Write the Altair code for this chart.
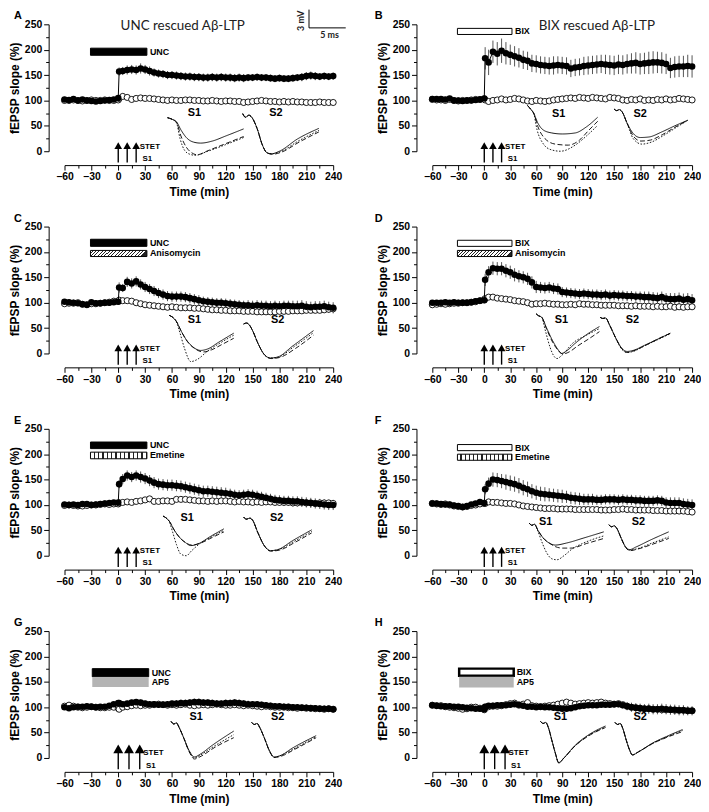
import altair as alt
import pandas as pd

# ---------------- time axis of the recordings (min) ----------------
TIMES = [-60, -55, -50, -45, -40, -35, -30, -25, -20, -15, -10, -5, 0, 1,
         5, 10, 15, 20, 25, 30, 35, 40, 45, 50, 55, 60,
         65, 70, 75, 80, 85, 90, 95, 100, 105, 110, 115, 120,
         125, 130, 135, 140, 145, 150, 155, 160, 165, 170, 175, 180,
         185, 190, 195, 200, 205, 210, 215, 220, 225, 230, 235, 240]

# ---------------- panel A ----------------
A_FILLED = [102, 101, 103, 100, 102, 100, 99, 98, 99, 100, 101, 102, 105, 157,
            158, 160, 161, 160, 163, 161, 158, 155, 153, 152, 150, 150,
            149, 148, 147, 147, 146, 146, 145, 145, 146, 145, 146, 145,
            145, 144, 145, 144, 145, 145, 146, 145, 145, 144, 143, 144,
            143, 143, 144, 145, 146, 148, 149, 148, 147, 148, 147, 148]
A_ERR = [3, 3, 3, 3, 3, 3, 3, 3, 3, 3, 3, 3, 3, 8,
         8, 9, 9, 9, 10, 9, 9, 8, 8, 8, 8, 8,
         8, 8, 8, 8, 8, 8, 8, 8, 8, 8, 8, 8,
         8, 8, 8, 8, 7, 7, 7, 7, 7, 7, 7, 7,
         7, 7, 7, 7, 8, 8, 8, 8, 7, 7, 7, 7]
A_OPEN = [100, 100, 101, 100, 99, 100, 101, 100, 100, 101, 100, 100, 101, 104,
          108, 106, 102, 104, 105, 104, 104, 103, 102, 101, 100, 101,
          100, 100, 101, 101, 100, 100, 99, 99, 100, 99, 98, 99,
          99, 98, 98, 96, 97, 98, 99, 100, 99, 98, 98, 97,
          98, 97, 98, 97, 97, 96, 96, 96, 97, 96, 96, 96]
A_S1 = {"solid": [(55, 66), (60, 63), (65, 58), (70, 42), (76, 27), (84, 18), (92, 16), (105, 20), (120, 30), (140, 44)],
        "dash": [(55, 66), (60, 63), (65, 57), (70, 30), (76, 8), (82, -3), (88, -7), (100, 1), (120, 15), (140, 29)],
        "dot": [(55, 66), (60, 63), (65, 56), (69, 25), (74, 2), (80, -6), (86, -8), (100, 0), (120, 13), (140, 27)]}
A_S2 = {"solid": [(139, 74), (142, 67), (146, 71), (149, 67), (155, 45), (161, 12), (166, -3), (171, -5), (180, 0), (200, 24), (224, 45)],
        "dash": [(139, 74), (142, 67), (146, 71), (149, 67), (155, 45), (161, 12), (166, -3), (172, -6), (182, -2), (202, 18), (224, 38)],
        "dot": [(139, 74), (142, 67), (146, 71), (149, 67), (155, 45), (161, 12), (166, -3), (172, -5), (181, -1), (201, 20), (224, 41)]}
A_LABELS = [("S1", 85, 76), ("S2", 176, 76)]
A_BARS = [("UNC", -31, 32, 189, 203, "black")]

# ---------------- panel B ----------------
B_FILLED = [103, 103, 103, 102, 104, 100, 100, 99, 100, 100, 101, 102, 104, 183,
            175, 196, 192, 198, 193, 190, 187, 184, 180, 178, 173, 172,
            170, 169, 168, 169, 170, 169, 168, 163, 165, 166, 168, 169,
            170, 171, 172, 171, 170, 169, 171, 170, 172, 173, 174, 172,
            173, 174, 175, 175, 174, 172, 164, 166, 167, 167, 168, 167]
B_ERR = [3, 3, 3, 3, 3, 3, 3, 3, 3, 3, 3, 3, 3, 22,
         25, 22, 23, 24, 22, 20, 20, 19, 18, 18, 17, 17,
         17, 17, 17, 18, 17, 17, 17, 17, 17, 17, 18, 18,
         18, 18, 18, 19, 19, 19, 19, 19, 19, 20, 21, 21,
         21, 22, 22, 21, 21, 20, 20, 21, 21, 21, 22, 22]
B_OPEN = [102, 101, 101, 100, 102, 100, 99, 100, 100, 101, 102, 102, 103, 101,
          98, 100, 101, 103, 101, 102, 104, 103, 101, 99, 98, 100,
          99, 98, 99, 101, 102, 103, 104, 105, 104, 106, 105, 104,
          106, 105, 104, 103, 106, 105, 104, 101, 100, 102, 101, 103,
          100, 101, 100, 102, 101, 103, 101, 102, 104, 103, 102, 101]
B_S1 = {"solid": [(50, 90), (54, 82), (57, 75), (62, 55), (68, 42), (78, 36), (90, 34), (105, 36), (118, 48), (131, 67)],
        "dash": [(50, 90), (54, 82), (57, 75), (62, 48), (70, 25), (82, 14), (97, 12), (110, 22), (120, 40), (131, 59)],
        "dot": [(50, 90), (54, 82), (57, 75), (61, 42), (68, 15), (77, 3), (88, 0), (105, 12), (118, 30), (131, 51)]}
B_S2 = {"solid": [(150, 83), (153, 80), (156, 82), (159, 78), (165, 55), (172, 35), (180, 27), (190, 28), (205, 38), (220, 50), (235, 61)],
        "dash": [(150, 83), (153, 80), (156, 82), (159, 78), (165, 55), (172, 30), (181, 20), (192, 22), (206, 33), (220, 47), (235, 61)],
        "dot": [(150, 83), (153, 80), (156, 82), (159, 78), (165, 55), (172, 25), (182, 14), (193, 18), (207, 31), (221, 46), (235, 61)]}
B_LABELS = [("S1", 86, 74), ("S2", 180, 74)]
B_BARS = [("BIX", -31, 32, 230, 242, "open")]

# ---------------- panel C ----------------
C_FILLED = [102, 101, 100, 99, 97, 96, 101, 99, 99, 100, 100, 101, 102, 130,
            129, 141, 138, 142, 136, 131, 127, 123, 119, 116, 113, 112,
            112, 112, 111, 109, 107, 105, 103, 102, 101, 100, 100, 99,
            98, 97, 96, 95, 95, 94, 95, 94, 94, 93, 94, 93,
            94, 94, 93, 93, 94, 92, 91, 92, 92, 93, 91, 90]
C_ERR = [4, 4, 4, 4, 4, 4, 4, 4, 4, 4, 4, 4, 4, 10,
         8, 10, 10, 10, 10, 10, 10, 10, 10, 10, 10, 10,
         10, 10, 10, 10, 10, 10, 9, 9, 9, 9, 9, 9,
         9, 9, 9, 9, 10, 10, 10, 10, 10, 10, 10, 10,
         10, 10, 11, 11, 11, 11, 11, 11, 11, 11, 11, 11]
C_OPEN = [98, 99, 99, 100, 97, 96, 98, 98, 99, 100, 101, 103, 103, 105,
          104, 104, 103, 100, 98, 96, 95, 94, 93, 92, 91, 92,
          91, 90, 90, 90, 89, 89, 88, 87, 86, 86, 85, 85,
          84, 84, 84, 83, 83, 83, 82, 82, 82, 82, 82, 83,
          83, 83, 84, 84, 84, 85, 85, 85, 85, 86, 87, 88]
C_S1 = {"solid": [(57, 75), (61, 71), (65, 63), (70, 45), (76, 27), (84, 12), (92, 6), (100, 9), (112, 22), (129, 40)],
        "dash": [(57, 75), (61, 71), (65, 63), (70, 45), (77, 24), (86, 9), (95, 3), (104, 7), (115, 17), (129, 30)],
        "dot": [(57, 75), (61, 71), (65, 62), (69, 40), (74, 10), (81, -16), (88, -12), (100, 5), (115, 22), (129, 36)]}
C_S2 = {"solid": [(140, 58), (143, 60), (146, 57), (150, 45), (156, 20), (163, -2), (170, -9), (178, -7), (195, 15), (218, 45)],
        "dash": [(140, 58), (143, 60), (146, 57), (150, 45), (156, 20), (163, -2), (171, -10), (180, -8), (198, 10), (218, 36)],
        "dot": [(140, 58), (143, 60), (146, 57), (150, 45), (156, 20), (163, -2), (170, -9), (179, -7), (196, 13), (218, 41)]}
C_LABELS = [("S1", 85, 66), ("S2", 178, 66)]
C_BARS = [("UNC", -31, 32, 211, 225, "black"), ("Anisomycin", -31, 32, 191, 203, "hatch")]

# ---------------- panel D ----------------
D_FILLED = [100, 100, 100, 101, 100, 101, 100, 100, 100, 101, 103, 104, 105, 145,
            160, 168, 167, 167, 163, 160, 155, 152, 150, 147, 140, 131,
            130, 129, 130, 128, 127, 121, 120, 119, 118, 117, 118, 117,
            116, 116, 115, 116, 114, 115, 114, 114, 113, 113, 112, 112,
            111, 111, 110, 109, 111, 108, 107, 107, 108, 106, 107, 105]
D_ERR = [3, 3, 3, 3, 3, 3, 3, 3, 3, 3, 3, 3, 3, 12,
         12, 13, 13, 13, 13, 13, 13, 12, 12, 12, 12, 12,
         11, 11, 11, 11, 11, 10, 10, 10, 10, 10, 10, 10,
         10, 10, 10, 10, 10, 10, 10, 10, 10, 10, 10, 10,
         11, 11, 11, 11, 11, 11, 12, 12, 12, 12, 12, 12]
D_OPEN = [96, 97, 98, 97, 98, 99, 99, 100, 100, 101, 102, 104, 106, 108,
          111, 111, 109, 108, 107, 106, 104, 103, 102, 100, 97, 98,
          98, 99, 98, 97, 97, 96, 96, 97, 96, 98, 97, 97,
          96, 96, 95, 95, 95, 95, 94, 94, 94, 93, 94, 93,
          93, 93, 92, 93, 92, 92, 93, 91, 92, 91, 92, 92]
D_S1 = {"solid": [(60, 78), (63, 74), (66, 72), (72, 50), (79, 25), (85, 8), (89, 0), (95, 5), (105, 20), (118, 37), (133, 53)],
        "dash": [(60, 78), (63, 74), (66, 72), (72, 48), (79, 22), (86, 5), (91, -1), (98, 3), (108, 15), (120, 28), (133, 43)],
        "dot": [(60, 78), (63, 74), (66, 72), (71, 42), (76, 12), (80, -4), (84, -10), (90, -3), (102, 20), (118, 36), (133, 49)]}
D_S2 = {"solid": [(134, 71), (137, 69), (140, 70), (145, 55), (152, 30), (159, 10), (165, 4), (172, 6), (185, 16), (200, 28), (215, 40)],
        "dash": [(134, 71), (137, 69), (140, 70), (145, 55), (152, 30), (159, 9), (165, 2), (172, 5), (185, 15), (200, 28), (215, 40)],
        "dot": [(134, 71), (137, 69), (140, 70), (145, 55), (152, 29), (159, 8), (165, 2), (172, 4), (185, 15), (200, 27), (215, 39)]}
D_LABELS = [("S1", 89, 65), ("S2", 171, 65)]
D_BARS = [("BIX", -31, 32, 211, 223, "open"), ("Anisomycin", -31, 32, 191, 203, "hatch")]

# ---------------- panel E ----------------
E_FILLED = [101, 100, 101, 100, 102, 102, 100, 101, 102, 103, 104, 105, 105, 141,
            151, 158, 155, 158, 155, 152, 148, 144, 141, 140, 139, 139,
            138, 137, 135, 133, 131, 129, 127, 127, 126, 125, 124, 123,
            122, 120, 119, 120, 121, 120, 118, 116, 114, 112, 110, 109,
            108, 108, 107, 107, 106, 105, 104, 103, 102, 101, 100, 100]
E_ERR = [3, 3, 3, 3, 3, 3, 3, 3, 3, 3, 3, 3, 3, 8,
         10, 10, 10, 10, 11, 11, 11, 11, 11, 11, 11, 11,
         11, 11, 11, 11, 11, 11, 11, 11, 11, 11, 11, 11,
         10, 10, 10, 10, 10, 10, 10, 10, 10, 10, 10, 10,
         10, 10, 10, 10, 10, 10, 10, 10, 10, 10, 10, 10]
E_OPEN = [99, 100, 99, 98, 98, 99, 100, 100, 101, 102, 101, 102, 102, 104,
          105, 106, 105, 107, 108, 110, 112, 107, 107, 108, 108, 107,
          111, 111, 111, 110, 109, 108, 108, 107, 108, 107, 108, 108,
          107, 106, 107, 106, 106, 105, 106, 105, 106, 106, 105, 105,
          105, 105, 104, 104, 105, 104, 104, 103, 104, 104, 104, 103]
E_S1 = {"solid": [(50, 78), (53, 75), (57, 68), (62, 52), (68, 37), (75, 26), (81, 20), (90, 24), (103, 38), (118, 53)],
        "dash": [(50, 78), (53, 75), (57, 68), (62, 52), (68, 37), (75, 26), (82, 21), (92, 25), (105, 36), (118, 47)],
        "dot": [(50, 78), (53, 75), (57, 67), (61, 45), (65, 22), (70, 3), (76, 0), (82, 10), (92, 25), (105, 38), (118, 50)]}
E_S2 = {"solid": [(140, 76), (143, 72), (147, 74), (150, 70), (156, 45), (163, 20), (170, 10), (178, 12), (195, 30), (216, 51)],
        "dash": [(140, 76), (143, 72), (147, 74), (150, 70), (156, 45), (163, 20), (170, 9), (180, 11), (197, 26), (216, 45)],
        "dot": [(140, 76), (143, 72), (147, 74), (150, 70), (156, 45), (163, 20), (170, 10), (179, 12), (196, 28), (216, 48)]}
E_LABELS = [("S1", 77, 75), ("S2", 177, 75)]
E_BARS = [("UNC", -31, 32, 211, 224, "black"), ("Emetine", -31, 32, 191, 204, "vstripe")]

# ---------------- panel F ----------------
F_FILLED = [103, 103, 102, 101, 101, 99, 98, 96, 98, 101, 103, 106, 104, 131,
            142, 150, 149, 147, 145, 143, 141, 138, 134, 131, 127, 124,
            122, 121, 120, 119, 118, 117, 116, 114, 113, 112, 111, 111,
            111, 110, 110, 111, 111, 111, 110, 111, 110, 110, 109, 109,
            108, 108, 108, 109, 108, 105, 104, 104, 104, 102, 101, 100]
F_ERR = [3, 3, 3, 3, 3, 3, 3, 3, 3, 3, 3, 3, 3, 10,
         12, 14, 14, 14, 15, 15, 15, 15, 15, 15, 14, 14,
         14, 14, 13, 13, 13, 13, 12, 12, 12, 12, 11, 11,
         11, 10, 10, 10, 10, 10, 10, 10, 10, 10, 10, 10,
         10, 10, 10, 10, 10, 10, 11, 11, 11, 11, 11, 11]
F_OPEN = [103, 102, 101, 102, 100, 98, 97, 96, 97, 99, 100, 102, 103, 103,
          106, 105, 105, 104, 103, 103, 102, 100, 98, 97, 96, 95,
          94, 93, 93, 93, 92, 92, 92, 92, 91, 91, 91, 91,
          91, 91, 90, 90, 90, 91, 91, 92, 91, 91, 90, 90,
          90, 90, 89, 89, 89, 88, 88, 88, 88, 88, 87, 86]
F_S1 = {"solid": [(52, 64), (55, 60), (58, 62), (62, 50), (68, 35), (75, 25), (82, 21), (95, 25), (115, 35), (138, 47)],
        "dash": [(52, 64), (55, 60), (58, 62), (62, 50), (68, 35), (75, 25), (82, 18), (90, 15), (100, 15), (118, 24), (138, 34)],
        "dot": [(52, 64), (55, 60), (58, 62), (62, 48), (67, 25), (72, 6), (78, -6), (84, -8), (92, 0), (102, 14), (112, 23), (125, 32), (138, 39)]}
F_S2 = {"solid": [(144, 61), (147, 57), (150, 59), (153, 54), (158, 35), (163, 18), (168, 12), (175, 17), (192, 31), (213, 47)],
        "dash": [(144, 61), (147, 57), (150, 59), (153, 54), (158, 35), (163, 17), (168, 10), (177, 13), (195, 23), (213, 34)],
        "dot": [(144, 61), (147, 57), (150, 59), (153, 54), (158, 35), (163, 17), (168, 11), (177, 14), (194, 25), (213, 37)]}
F_LABELS = [("S1", 71, 66), ("S2", 178, 66)]
F_BARS = [("BIX", -31, 32, 207, 219, "open"), ("Emetine", -31, 32, 188, 200, "vstripe")]

# ---------------- panel G ----------------
G_FILLED = [100, 98, 100, 101, 101, 102, 101, 100, 101, 101, 103, 106, 108, 108,
            106, 107, 109, 110, 109, 107, 106, 106, 105, 105, 106, 107,
            107, 108, 108, 109, 110, 110, 109, 109, 108, 107, 107, 108,
            108, 109, 108, 107, 106, 106, 106, 105, 104, 103, 102, 102,
            101, 101, 100, 100, 99, 99, 98, 98, 97, 97, 97, 96]
G_ERR = [3, 3, 3, 3, 3, 3, 3, 3, 3, 3, 3, 3, 3, 5,
         6, 6, 6, 6, 6, 6, 6, 6, 6, 6, 6, 6,
         7, 7, 7, 7, 7, 7, 7, 7, 7, 7, 7, 7,
         7, 7, 7, 7, 7, 6, 6, 6, 6, 6, 6, 6,
         6, 6, 6, 6, 6, 6, 6, 6, 6, 6, 6, 6]
G_OPEN = [102, 104, 102, 100, 99, 100, 101, 100, 99, 99, 100, 100, 98, 96,
          100, 101, 103, 104, 103, 104, 104, 105, 106, 105, 104, 105,
          104, 105, 106, 104, 103, 104, 105, 104, 105, 106, 105, 104,
          104, 105, 104, 103, 104, 103, 102, 101, 102, 101, 100, 100,
          100, 99, 99, 98, 99, 98, 98, 97, 97, 96, 97, 96]
G_S1 = {"solid": [(59, 72), (62, 67), (65, 69), (68, 60), (73, 40), (79, 15), (85, 2), (92, 8), (105, 25), (129, 53)],
        "dash": [(59, 72), (62, 67), (65, 69), (68, 60), (73, 40), (79, 13), (85, -2), (93, 4), (107, 20), (129, 40)],
        "dot": [(59, 72), (62, 67), (65, 69), (68, 60), (73, 40), (79, 14), (85, 0), (92, 6), (106, 22), (129, 46)]}
G_S2 = {"solid": [(149, 70), (152, 66), (155, 68), (158, 60), (163, 40), (169, 14), (174, 2), (180, 4), (195, 20), (221, 44)],
        "dash": [(149, 70), (152, 66), (155, 68), (158, 60), (163, 40), (169, 13), (174, 1), (181, 3), (197, 17), (221, 40)],
        "dot": [(149, 70), (152, 66), (155, 68), (158, 60), (163, 40), (169, 13), (174, 1), (180, 4), (196, 18), (221, 42)]}
G_LABELS = [("S1", 87, 80), ("S2", 178, 80)]
G_BARS = [("UNC", -29, 34, 160, 176, "black"), ("AP5", -29, 34, 140, 159, "gray")]

# ---------------- panel H ----------------
H_FILLED = [104, 103, 102, 102, 102, 101, 101, 100, 99, 98, 97, 97, 96, 101,
            103, 103, 104, 104, 104, 105, 106, 105, 103, 101, 101, 100,
            101, 100, 100, 99, 98, 97, 97, 98, 100, 102, 103, 104,
            104, 104, 105, 105, 105, 106, 106, 104, 102, 100, 99, 98,
            97, 97, 96, 96, 97, 96, 95, 95, 94, 94, 93, 93]
H_ERR = [3, 3, 3, 3, 3, 3, 3, 3, 3, 3, 3, 3, 3, 3,
         3, 3, 3, 3, 3, 3, 3, 3, 3, 3, 3, 3,
         3, 3, 3, 3, 3, 3, 3, 3, 4, 4, 4, 4,
         4, 4, 4, 4, 4, 4, 5, 6, 8, 9, 9, 9,
         9, 10, 10, 10, 10, 10, 10, 10, 10, 10, 9, 9]
H_OPEN = [104, 103, 103, 101, 100, 99, 98, 96, 97, 100, 100, 98, 95, 100,
          101, 102, 102, 103, 105, 107, 108, 104, 106, 109, 103, 102,
          101, 102, 103, 104, 106, 108, 110, 108, 106, 107, 108, 109,
          108, 109, 110, 108, 107, 106, 107, 105, 102, 100, 99, 98,
          97, 97, 96, 96, 95, 95, 95, 94, 94, 94, 93, 93]
H_S1 = {"solid": [(65, 72), (68, 68), (71, 70), (74, 60), (78, 35), (82, 10), (86, -10), (92, 0), (105, 25), (120, 45), (140, 63)],
        "dash": [(65, 72), (68, 68), (71, 70), (74, 60), (78, 35), (82, 10), (86, -9), (92, 0), (105, 24), (120, 43), (140, 60)],
        "dot": [(65, 72), (68, 68), (71, 70), (74, 60), (78, 35), (82, 10), (86, -9), (92, 0), (105, 24), (120, 44), (140, 61)]}
H_S2 = {"solid": [(151, 70), (154, 66), (157, 68), (160, 58), (164, 35), (168, 15), (171, 6), (178, 12), (195, 30), (210, 42), (229, 56)],
        "dash": [(151, 70), (154, 66), (157, 68), (160, 58), (164, 35), (168, 15), (171, 6), (178, 12), (195, 29), (210, 40), (229, 52)],
        "dot": [(151, 70), (154, 66), (157, 68), (160, 58), (164, 35), (168, 15), (171, 6), (178, 12), (195, 29), (210, 41), (229, 54)]}
H_LABELS = [("S1", 88, 80), ("S2", 180, 80)]
H_BARS = [("BIX", -29, 34, 162, 176, "openthick"), ("AP5", -29, 34, 139, 160, "gray")]

# tetanisation arrows (min)
ARROWS_AF = [0, 10, 20]
ARROWS_GH = [0, 12, 24]

# titles and the scale bar of panel A
TITLES = {"A": ("UNC rescued A\u03b2-LTP", 72, 246), "B": ("BIX rescued A\u03b2-LTP", 130, 246)}
SCALE_X = [213, 213, 254]
SCALE_Y = [279, 243, 243]
SCALE_TEXT = [("3 mV", 204, 257, 270), ("5 ms", 236, 228, 0)]

# ---------------- styling ----------------
FONT = "Liberation Sans"
W_LEFT, W_RIGHT, H = 271, 262, 128
XS = alt.Scale(domain=[-60, 240], nice=False, zero=False)
YS = alt.Scale(domain=[0, 250], nice=False, zero=False)


def stripes(n, duty, x2, y2):
    stops = []
    p = 1.0 / n
    for i in range(n):
        a = i * p
        b = a + p * (1 - duty)
        c = a + p
        stops += [alt.GradientStop(color="white", offset=round(a, 4)),
                  alt.GradientStop(color="white", offset=round(b, 4)),
                  alt.GradientStop(color="#222", offset=round(b, 4)),
                  alt.GradientStop(color="#222", offset=round(min(c, 1.0), 4))]
    return alt.LinearGradient(gradient="linear", stops=stops, x1=0, y1=0, x2=x2, y2=y2)


HATCH = stripes(17, 0.3, 1, 0.11)
VSTRIPE = stripes(13, 0.28, 1, 0)


def panel(letter, filled, err, opn, s1, s2, labels, bars, arrows, xtitle, letter_dx, width):
    big = arrows is ARROWS_GH
    xaxis = alt.Axis(values=list(range(-60, 241, 15)), title=xtitle, offset=14,
                     labelExpr="datum.value % 30 === 0 ? datum.label : ''",
                     tickSize={"condition": {"test": "datum.value % 30 === 0", "value": 5}, "value": 3},
                     labelFlush=False, titlePadding=4)
    yaxis = alt.Axis(values=list(range(0, 251, 25)), title="fEPSP slope (%)", offset=16,
                     labelExpr="datum.value % 50 === 0 ? datum.label : ''",
                     tickSize={"condition": {"test": "datum.value % 50 === 0", "value": 5}, "value": 3},
                     titlePadding=3)

    def X(field):
        return alt.X(field, type="quantitative", scale=XS, axis=xaxis)

    def Y(field):
        return alt.Y(field, type="quantitative", scale=YS, axis=yaxis)

    df = pd.DataFrame({"t": TIMES, "f": filled, "o": opn,
                       "lo": [a - b for a, b in zip(filled, err)],
                       "hi": [a + b for a, b in zip(filled, err)]})
    base = alt.Chart(df)
    layers = [
        base.mark_rule(color="#555", strokeWidth=1).encode(x=X("t"), y=Y("lo"), y2="hi"),
        base.mark_circle(fill="white", stroke="black", strokeWidth=0.9, size=38, opacity=1).encode(x=X("t"), y=Y("o")),
        base.mark_line(color="black", strokeWidth=1).encode(x=X("t"), y=Y("f")),
        base.mark_circle(color="black", size=44, opacity=1).encode(x=X("t"), y=Y("f")),
    ]
    # drug bars
    for label, x0, x1, y0, y1, style in bars:
        bdf = pd.DataFrame({"x0": [x0], "x1": [x1], "y0": [y0], "y1": [y1], "lab": [label],
                            "ym": [(y0 + y1) / 2]})
        if style == "black":
            mk = dict(fill="black", stroke="black", strokeWidth=1)
        elif style == "open":
            mk = dict(fill="white", stroke="black", strokeWidth=1)
        elif style == "openthick":
            mk = dict(fill="white", stroke="black", strokeWidth=2.5)
        elif style == "gray":
            mk = dict(fill="#b4b4b4", strokeWidth=0)
        elif style == "hatch":
            mk = dict(fill=HATCH, stroke="black", strokeWidth=1)
        else:
            mk = dict(fill=VSTRIPE, stroke="black", strokeWidth=1)
        bc = alt.Chart(bdf)
        layers.append(bc.mark_rect(**mk).encode(x=X("x0"), x2="x1", y=Y("y0"), y2="y1"))
        layers.append(bc.mark_text(font=FONT, fontWeight="bold", fontSize=9, align="left", dx=3,
                                   baseline="middle", color="black")
                      .encode(x=X("x1"), y=Y("ym"), text="lab:N"))
    # arrows
    adf = pd.DataFrame({"t": arrows, "y0": [-22] * 3, "y1": [14 if big else 8] * 3,
                        "yh": [18 if big else 11] * 3})
    ac = alt.Chart(adf)
    layers.append(ac.mark_rule(color="black", strokeWidth=1.4).encode(x=X("t"), y=Y("y0"), y2="y1"))
    layers.append(ac.mark_point(shape="triangle-up", filled=True, color="black", opacity=1,
                                size=100 if big else 60).encode(x=X("t"), y=Y("yh")))
    sdf = pd.DataFrame({"t": [arrows[-1] + 4, arrows[-1] + 7], "y": [9, -15], "s": ["STET", "S1"]})
    layers.append(alt.Chart(sdf).mark_text(font=FONT, fontWeight="bold", fontSize=8, align="left",
                                           baseline="middle", color="black")
                  .encode(x=X("t"), y=Y("y"), text="s:N"))
    # evoked-response insets
    rows = []
    for inset, d in (("S1", s1), ("S2", s2)):
        for style, pts in d.items():
            for i, (t, v) in enumerate(pts):
                rows.append({"t": t, "v": v, "trace": inset + style, "style": style, "i": i})
    tdf = pd.DataFrame(rows)
    layers.append(alt.Chart(tdf).mark_line(color="black", strokeWidth=0.9, interpolate="monotone")
                  .encode(x=X("t"), y=Y("v"), detail="trace:N", order="i:Q",
                          strokeDash=alt.StrokeDash("style:N", legend=None,
                                                    scale=alt.Scale(domain=["solid", "dash", "dot"],
                                                                    range=[[1, 0], [5, 2.5], [1.6, 1.6]]))))
    ldf = pd.DataFrame({"s": [l[0] for l in labels], "t": [l[1] for l in labels], "y": [l[2] for l in labels]})
    layers.append(alt.Chart(ldf).mark_text(font=FONT, fontWeight="bold", fontSize=11, baseline="middle",
                                           color="black").encode(x=X("t"), y=Y("y"), text="s:N"))
    if letter in TITLES:
        txt, tx, ty = TITLES[letter]
        tt = pd.DataFrame({"s": [txt], "t": [tx], "y": [ty]})
        layers.append(alt.Chart(tt).mark_text(font="Lato", fontSize=13.5, baseline="middle", color="#222")
                      .encode(x=X("t"), y=Y("y"), text="s:N"))
    if letter == "A":
        sb = pd.DataFrame({"t": SCALE_X, "y": SCALE_Y, "i": [0, 1, 2]})
        layers.append(alt.Chart(sb).mark_line(color="black", strokeWidth=1)
                      .encode(x=X("t"), y=Y("y"), order="i:Q"))
        for s, tx, ty, ang in SCALE_TEXT:
            st = pd.DataFrame({"s": [s], "t": [tx], "y": [ty]})
            layers.append(alt.Chart(st).mark_text(font="Lato", fontWeight="bold", fontSize=9,
                                                  baseline="middle", color="#222", angle=ang)
                          .encode(x=X("t"), y=Y("y"), text="s:N"))
    lt = pd.DataFrame({"s": [letter]})
    layers.append(alt.Chart(lt).mark_text(font=FONT, fontWeight="bold", fontSize=11, align="left",
                                           baseline="bottom", color="black")
                  .encode(x=alt.value(letter_dx), y=alt.value(-3), text="s:N"))
    return alt.layer(*layers).properties(width=width, height=H)


panels = [
    panel("A", A_FILLED, A_ERR, A_OPEN, A_S1, A_S2, A_LABELS, A_BARS, ARROWS_AF, "Time (min)", -51, W_LEFT),
    panel("B", B_FILLED, B_ERR, B_OPEN, B_S1, B_S2, B_LABELS, B_BARS, ARROWS_AF, "Time (min)", -58, W_RIGHT),
    panel("C", C_FILLED, C_ERR, C_OPEN, C_S1, C_S2, C_LABELS, C_BARS, ARROWS_AF, "Time (min)", -51, W_LEFT),
    panel("D", D_FILLED, D_ERR, D_OPEN, D_S1, D_S2, D_LABELS, D_BARS, ARROWS_AF, "Time (min)", -58, W_RIGHT),
    panel("E", E_FILLED, E_ERR, E_OPEN, E_S1, E_S2, E_LABELS, E_BARS, ARROWS_AF, "Time (min)", -51, W_LEFT),
    panel("F", F_FILLED, F_ERR, F_OPEN, F_S1, F_S2, F_LABELS, F_BARS, ARROWS_AF, "Time (min)", -58, W_RIGHT),
    panel("G", G_FILLED, G_ERR, G_OPEN, G_S1, G_S2, G_LABELS, G_BARS, ARROWS_GH, "TIme (min)", -51, W_LEFT),
    panel("H", H_FILLED, H_ERR, H_OPEN, H_S1, H_S2, H_LABELS, H_BARS, ARROWS_GH, "TIme (min)", -58, W_RIGHT),
]

chart = alt.concat(*panels, columns=2, bounds="flush", align="each",
                   spacing={"row": 76, "column": 100}).properties(
    padding={"top": -4, "left": 0, "right": 0, "bottom": 0}, background="white"
).configure_view(strokeWidth=0).configure_axis(
    grid=False, domainColor="black", domainWidth=1, tickColor="black", tickWidth=1,
    labelColor="black", labelFont=FONT, labelFontWeight="bold", labelFontSize=10.5, labelPadding=2,
    titleColor="black", titleFont=FONT, titleFontWeight="bold", titleFontSize=12
)

chart.save("out.html", embed_options={"renderer": "svg", "actions": False})
